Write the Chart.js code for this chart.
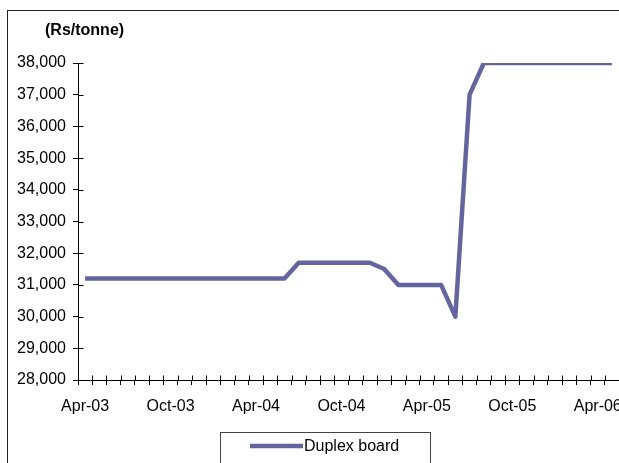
<!DOCTYPE html>
<html>
<head>
<meta charset="utf-8">
<script src="https://cdn.jsdelivr.net/npm/chart.js@4/dist/chart.umd.min.js"></script>
<style>
  html, body { margin: 0; padding: 0; background: #fff; overflow: hidden; }
  #wrap { position: relative; width: 619px; height: 463px; overflow: hidden; }
</style>
</head>
<body>
<div id="wrap"><canvas id="c" width="624" height="463"></canvas></div>
<script>
// Monthly categories, April 2003 to May 2006
const months = [
  'Apr-03','May-03','Jun-03','Jul-03','Aug-03','Sep-03','Oct-03','Nov-03','Dec-03','Jan-04','Feb-04','Mar-04',
  'Apr-04','May-04','Jun-04','Jul-04','Aug-04','Sep-04','Oct-04','Nov-04','Dec-04','Jan-05','Feb-05','Mar-05',
  'Apr-05','May-05','Jun-05','Jul-05','Aug-05','Sep-05','Oct-05','Nov-05','Dec-05','Jan-06','Feb-06','Mar-06',
  'Apr-06','May-06'
];

// Duplex board price, Rs per tonne
const duplexBoard = [
  31200, 31200, 31200, 31200, 31200, 31200, 31200, 31200, 31200, 31200, 31200, 31200,
  31200, 31200, 31200, 31700, 31700, 31700, 31700, 31700, 31700, 31500, 31000, 31000,
  31000, 31000, 30000, 37000, 38000, 38000, 38000, 38000, 38000, 38000, 38000, 38000,
  38000, 38000
];

const seriesName = 'Duplex board';
const unitLabel = '(Rs/tonne)';
const yMin = 28000;
const yMax = 38000;
const yStep = 1000;

const lineColor = '#64649e';
const fontFamily = '"Liberation Sans", Arial, Helvetica, sans-serif';

// Frame, unit caption, legend box and cross-style tick marks
const decorations = {
  id: 'decorations',
  beforeDraw(chart) {
    const ctx = chart.ctx;
    ctx.save();
    ctx.strokeStyle = '#222';
    ctx.lineWidth = 1;
    ctx.strokeRect(7.5, 10.5, 700, 600);
    ctx.restore();
  },
  afterDraw(chart) {
    const ctx = chart.ctx;
    const x = chart.scales.x;
    const y = chart.scales.y;
    ctx.save();
    // inward half of the cross ticks
    ctx.strokeStyle = '#000';
    ctx.lineWidth = 1;
    ctx.beginPath();
    const n = x.ticks.length;
    const axisY = Math.round(y.bottom) + 0.5;
    for (let i = 0; i <= n; i++) {
      const px = Math.round(x.left + i * (x.right - x.left) / n) + 0.5;
      ctx.moveTo(px, axisY);
      ctx.lineTo(px, axisY - 5);
    }
    const axisX = Math.round(x.left) + 0.5;
    for (let v = yMin; v <= yMax; v += yStep) {
      const py = Math.round(y.getPixelForValue(v)) + 0.5;
      ctx.moveTo(axisX, py);
      ctx.lineTo(axisX + 5, py);
    }
    ctx.stroke();

    // unit caption
    ctx.fillStyle = '#000';
    ctx.font = 'bold 16px ' + fontFamily;
    ctx.textAlign = 'left';
    ctx.textBaseline = 'middle';
    ctx.fillText(unitLabel, 45, 31);

    // legend
    ctx.strokeStyle = '#444';
    ctx.lineWidth = 1;
    ctx.strokeRect(220.5, 432.5, 210, 60);
    ctx.strokeStyle = lineColor;
    ctx.lineWidth = 4.5;
    ctx.beginPath();
    ctx.moveTo(250, 446);
    ctx.lineTo(303, 446);
    ctx.stroke();
    ctx.fillStyle = '#000';
    ctx.font = '16px ' + fontFamily;
    ctx.fillText(chart.data.datasets[0].label, 304, 447);
    ctx.restore();
  }
};

new Chart(document.getElementById('c'), {
  type: 'line',
  data: {
    labels: months,
    datasets: [{
      label: seriesName,
      data: duplexBoard,
      borderColor: lineColor,
      backgroundColor: lineColor,
      borderWidth: 4.5,
      borderJoinStyle: 'round',
      pointRadius: 0,
      tension: 0,
      fill: false
    }]
  },
  options: {
    responsive: false,
    animation: false,
    devicePixelRatio: 1,
    layout: { padding: { top: 63, right: 1, bottom: 0, left: 0 } },
    plugins: {
      legend: { display: false },
      title: { display: false },
      tooltip: { enabled: false }
    },
    scales: {
      x: {
        type: 'category',
        offset: true,
        grid: {
          offset: true,
          drawOnChartArea: false,
          drawTicks: true,
          tickLength: 5,
          color: '#000',
          lineWidth: 1
        },
        border: { display: true, color: '#000', width: 1 },
        ticks: {
          autoSkip: false,
          maxRotation: 0,
          minRotation: 0,
          padding: 12,
          color: '#000',
          font: { family: fontFamily, size: 16 },
          callback: (v, i) => (i % 6 === 0 ? months[i] : '')
        },
        afterFit: s => { s.height = 83; }
      },
      y: {
        min: yMin,
        max: yMax,
        grid: {
          drawOnChartArea: false,
          drawTicks: true,
          tickLength: 5,
          color: '#000',
          lineWidth: 1
        },
        border: { display: true, color: '#000', width: 1 },
        ticks: {
          stepSize: yStep,
          padding: 7,
          color: '#000',
          font: { family: fontFamily, size: 16 },
          callback: v => v.toLocaleString('en-US')
        },
        afterFit: s => { s.width = 78; }
      }
    }
  },
  plugins: [decorations]
});
</script>
</body>
</html>
